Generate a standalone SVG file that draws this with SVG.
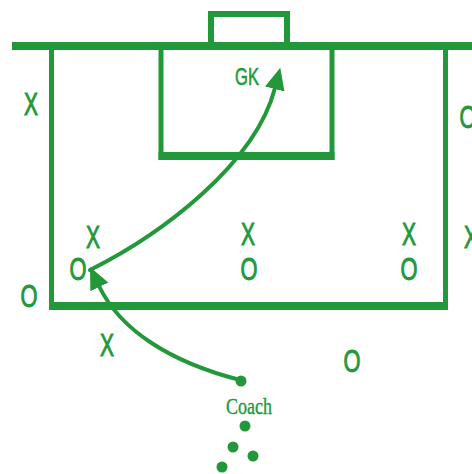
<svg xmlns="http://www.w3.org/2000/svg" width="472" height="474" viewBox="0 0 472 474">
<style>
.ln{stroke:#22983a;fill:none;stroke-linecap:butt}
.mk{font-family:"Liberation Sans",Arial,sans-serif;font-size:32px;fill:#22983a;stroke:#22983a;stroke-width:1;text-anchor:middle}
.lbl{font-family:"Liberation Serif","Times New Roman",serif;fill:#22983a;stroke:#22983a;stroke-width:0.4;text-anchor:middle}
.dot{fill:#22983a}
.cv{stroke:#22983a;stroke-width:4;fill:none;stroke-linecap:round}
</style>
<defs>
<marker id="ah" markerUnits="userSpaceOnUse" markerWidth="22" markerHeight="20" viewBox="0 0 22 20" refX="1" refY="10" orient="auto">
<path d="M0,0 L22,10 L0,20 z" fill="#22983a"/>
</marker>
</defs>
<rect width="472" height="474" fill="#ffffff"/>
<g id="pitch">
<line class="ln" x1="12" y1="46" x2="472" y2="46" stroke-width="8"/>
<rect class="ln" x="211" y="14" width="76" height="32" stroke-width="6"/>
<line class="ln" x1="51.5" y1="46" x2="51.5" y2="310" stroke-width="5"/>
<line class="ln" x1="445.5" y1="46" x2="445.5" y2="310" stroke-width="5"/>
<line class="ln" x1="49" y1="306" x2="448" y2="306" stroke-width="8"/>
<line class="ln" x1="161" y1="46" x2="161" y2="160" stroke-width="5"/>
<line class="ln" x1="332" y1="46" x2="332" y2="160" stroke-width="5"/>
<line class="ln" x1="158.5" y1="156" x2="334.5" y2="156" stroke-width="8"/>
</g>
<g id="connectors">
<path class="cv" d="M90,270 C160,235 255,165 275,88" marker-end="url(#ah)"/>
<path class="cv" d="M240,380 C170,362 120,330 99,286" marker-end="url(#ah)"/>
</g>
<g id="x-left"><text class="mk" x="31" y="115" textLength="14" lengthAdjust="spacingAndGlyphs">X</text></g>
<g id="o-right"><text class="mk" x="468" y="128" textLength="17" lengthAdjust="spacingAndGlyphs">O</text></g>
<g id="x1"><text class="mk" x="93" y="248" textLength="14" lengthAdjust="spacingAndGlyphs">X</text></g>
<g id="x2"><text class="mk" x="248" y="245" textLength="14" lengthAdjust="spacingAndGlyphs">X</text></g>
<g id="x3"><text class="mk" x="409" y="245" textLength="14" lengthAdjust="spacingAndGlyphs">X</text></g>
<g id="x-right"><text class="mk" x="471" y="248" textLength="14" lengthAdjust="spacingAndGlyphs">X</text></g>
<g id="o1"><text class="mk" x="78" y="280" textLength="17" lengthAdjust="spacingAndGlyphs">O</text></g>
<g id="o2"><text class="mk" x="249" y="280" textLength="17" lengthAdjust="spacingAndGlyphs">O</text></g>
<g id="o3"><text class="mk" x="409" y="280" textLength="17" lengthAdjust="spacingAndGlyphs">O</text></g>
<g id="o-left"><text class="mk" x="29" y="307" textLength="17" lengthAdjust="spacingAndGlyphs">O</text></g>
<g id="x-below"><text class="mk" x="107" y="356" textLength="14" lengthAdjust="spacingAndGlyphs">X</text></g>
<g id="o-below"><text class="mk" x="352" y="372" textLength="17" lengthAdjust="spacingAndGlyphs">O</text></g>
<g id="gk"><text class="mk" x="247" y="85" textLength="24" lengthAdjust="spacingAndGlyphs" style="font-size:24px;stroke-width:0.6">GK</text></g>
<g id="coach">
<circle class="dot" cx="241" cy="381" r="5.5"/>
<text class="lbl" x="249" y="414" font-size="24" textLength="46" lengthAdjust="spacingAndGlyphs">Coach</text>
</g>
<g id="balls">
<circle class="dot" cx="245" cy="426" r="5.5"/>
<circle class="dot" cx="233" cy="447" r="5.5"/>
<circle class="dot" cx="253" cy="456" r="5.5"/>
<circle class="dot" cx="222" cy="467" r="5.5"/>
</g>
</svg>
